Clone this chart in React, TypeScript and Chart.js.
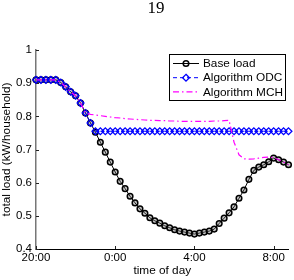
import { useEffect, useRef } from 'react';
import { Chart, registerables } from 'chart.js';

Chart.register(...registerables);

// Sampling grid: one sample every 15 minutes starting at 20:00
const stepHours = 0.25;

const seriesNames = ['Base load', 'Algorithm ODC', 'Algorithm MCH'];

// Average household load (kW) per 15-minute slot, 20:00 to 8:45
const baseLoad = [
  0.91, 0.91, 0.91, 0.91, 0.91, 0.902, 0.889, 0.874, 0.862, 0.84,
  0.81, 0.78, 0.752, 0.722, 0.692, 0.662, 0.632, 0.604, 0.582, 0.559,
  0.539, 0.521, 0.508, 0.494, 0.485, 0.478, 0.47, 0.464, 0.458, 0.454,
  0.451, 0.448, 0.445, 0.448, 0.451, 0.454, 0.46, 0.477, 0.493, 0.509,
  0.527, 0.553, 0.578, 0.61, 0.637, 0.647, 0.654, 0.663, 0.674, 0.669,
  0.662, 0.654,
];

const odcLoad = [
  0.91, 0.91, 0.91, 0.91, 0.91, 0.902, 0.889, 0.874, 0.862, 0.84,
  0.81, 0.78, 0.755, 0.755, 0.755, 0.755, 0.755, 0.755, 0.755, 0.755,
  0.755, 0.755, 0.755, 0.755, 0.755, 0.755, 0.755, 0.755, 0.755, 0.755,
  0.755, 0.755, 0.755, 0.755, 0.755, 0.755, 0.755, 0.755, 0.755, 0.755,
  0.755, 0.755, 0.755, 0.755, 0.755, 0.755, 0.755, 0.755, 0.755, 0.755,
  0.755, 0.755,
];

const mchLoad = [
  0.91, 0.91, 0.91, 0.91, 0.91, 0.902, 0.889, 0.874, 0.862, 0.84,
  0.81, 0.806, 0.804, 0.802, 0.8, 0.798, 0.796, 0.795, 0.793, 0.792,
  0.791, 0.79, 0.789, 0.788, 0.788, 0.787, 0.787, 0.786, 0.786, 0.785,
  0.785, 0.785, 0.785, 0.785, 0.785, 0.785, 0.786, 0.786, 0.787, 0.788,
  0.722, 0.684, 0.672, 0.671, 0.672, 0.674, 0.676, 0.677, 0.676, 0.669,
  0.662, 0.654,
];

const xTickHours = [0, 4, 8, 12];
const xTickLabels = ['20:00', '0:00', '4:00', '8:00'];
const yTickValues = [0.4, 0.5, 0.6, 0.7, 0.8, 0.9, 1];
const yTickLabels = ['0.4', '0.5', '0.6', '0.7', '0.8', '0.9', '1'];

const pageNumber = '19';
const sansFont = '"Liberation Sans", Arial, Helvetica, sans-serif';
const serifFont = '"Liberation Serif", "Times New Roman", serif';

const toPoints = (values: number[]) =>
  values.map((v, i) => ({ x: i * stepHours, y: v }));

function drawMarker(ctx: CanvasRenderingContext2D, style: string, x: number, y: number, r: number) {
  ctx.beginPath();
  if (style === 'rectRot') {
    ctx.moveTo(x, y - r);
    ctx.lineTo(x + r, y);
    ctx.lineTo(x, y + r);
    ctx.lineTo(x - r, y);
    ctx.closePath();
  } else {
    ctx.arc(x, y, r, 0, Math.PI * 2);
  }
  ctx.stroke();
}

// Inward tick marks on both axes, drawn under the data
const innerTicks = {
  id: 'innerTicks',
  beforeDatasetsDraw(chart: any) {
    const { ctx, chartArea, scales } = chart;
    ctx.save();
    ctx.strokeStyle = '#222';
    ctx.lineWidth = 1;
    yTickValues.forEach((v) => {
      const y = Math.round(scales.y.getPixelForValue(v)) + 0.5;
      ctx.beginPath();
      ctx.moveTo(chartArea.left, y);
      ctx.lineTo(chartArea.left + 3, y);
      ctx.stroke();
    });
    xTickHours.forEach((h) => {
      const x = Math.round(scales.x.getPixelForValue(h)) + 0.5;
      ctx.beginPath();
      ctx.moveTo(x, chartArea.bottom);
      ctx.lineTo(x, chartArea.bottom - 3);
      ctx.stroke();
    });
    ctx.restore();
  },
};

// Boxed legend with line-style samples plus the page number above the plot
const boxLegend = {
  id: 'boxLegend',
  afterDraw(chart: any) {
    const { ctx } = chart;
    ctx.save();
    ctx.fillStyle = '#000';
    ctx.font = `17px ${serifFont}`;
    ctx.textAlign = 'center';
    ctx.textBaseline = 'alphabetic';
    ctx.fillText(pageNumber, 156, 12.5);

    const bx = 169.5, by = 54.5, bw = 116, bh = 46;
    ctx.fillStyle = '#fff';
    ctx.fillRect(bx, by, bw, bh);
    ctx.strokeStyle = '#000';
    ctx.lineWidth = 1;
    ctx.setLineDash([]);
    ctx.strokeRect(bx, by, bw, bh);

    chart.data.datasets.forEach((ds: any, i: number) => {
      const y = 63.5 + i * 14.2;
      ctx.strokeStyle = ds.borderColor;
      ctx.lineWidth = ds.borderWidth;
      ctx.setLineDash(ds.borderDash || []);
      ctx.beginPath();
      ctx.moveTo(173, y);
      ctx.lineTo(199, y);
      ctx.stroke();
      ctx.setLineDash([]);
      if (ds.pointRadius > 0) {
        ctx.strokeStyle = ds.pointBorderColor;
        ctx.lineWidth = ds.pointBorderWidth;
        drawMarker(ctx, ds.pointStyle, 186, y, ds.pointRadius);
      }
      ctx.fillStyle = '#000';
      ctx.font = `11.8px ${sansFont}`;
      ctx.textAlign = 'left';
      ctx.textBaseline = 'middle';
      ctx.fillText(ds.label, 203, y + 0.5);
    });
    ctx.restore();
  },
};

export default function App() {
  const canvasRef = useRef<HTMLCanvasElement | null>(null);

  useEffect(() => {
    const canvas = canvasRef.current;
    if (!canvas) return;
    const xMax = (baseLoad.length - 1) * stepHours;

    const chart = new Chart(canvas, {
      type: 'line',
      data: {
        datasets: [
          {
            label: seriesNames[0],
            data: toPoints(baseLoad),
            borderColor: '#000',
            borderWidth: 1,
            pointStyle: 'circle',
            pointRadius: 2.8,
            pointBorderColor: '#000',
            pointBackgroundColor: 'rgba(90,90,90,0.35)',
            pointBorderWidth: 1.5,
            order: 3,
            clip: false,
          },
          {
            label: seriesNames[1],
            data: toPoints(odcLoad),
            borderColor: '#0000ff',
            borderWidth: 1,
            borderDash: [4, 3],
            pointStyle: 'rectRot',
            pointRadius: 3.4,
            pointBorderColor: '#0000ff',
            pointBackgroundColor: 'rgba(0,0,0,0)',
            pointBorderWidth: 1.3,
            order: 2,
            clip: false,
          },
          {
            label: seriesNames[2],
            data: toPoints(mchLoad),
            borderColor: '#ff00ff',
            borderWidth: 1.2,
            borderDash: [6, 3, 1.5, 3],
            pointRadius: 0,
            order: 1,
            clip: false,
          },
        ],
      },
      options: {
        responsive: false,
        animation: false,
        devicePixelRatio: 1,
        layout: { padding: { top: 50, right: 4, left: 0, bottom: 0 } },
        plugins: {
          legend: { display: false },
          tooltip: { enabled: false },
          title: { display: false },
        },
        elements: { line: { tension: 0 } },
        scales: {
          x: {
            type: 'linear',
            min: 0,
            max: xMax,
            afterFit: (s: any) => { s.height = 31; },
            afterBuildTicks: (s: any) => {
              s.ticks = xTickHours.map((v) => ({ value: v }));
            },
            grid: { display: false, drawTicks: false },
            border: { display: true, color: '#000', width: 1 },
            ticks: {
              color: '#000',
              padding: 2,
              maxRotation: 0,
              autoSkip: false,
              font: { family: sansFont, size: 11.5 },
              callback: (v: any) => {
                const i = xTickHours.indexOf(Number(v));
                return i >= 0 ? xTickLabels[i] : '';
              },
            },
            title: {
              display: true,
              text: 'time of day',
              color: '#000',
              font: { family: sansFont, size: 11.8 },
              padding: { top: 0, bottom: 2 },
            },
          },
          y: {
            min: 0.4,
            max: 1,
            afterFit: (s: any) => { s.width = 36; },
            afterBuildTicks: (s: any) => {
              s.ticks = yTickValues.map((v) => ({ value: v }));
            },
            grid: { display: false, drawTicks: false },
            border: { display: true, color: '#777', width: 1.5 },
            ticks: {
              color: '#000',
              padding: 4,
              autoSkip: false,
              font: { family: sansFont, size: 11.5 },
              callback: (v: any) => {
                const i = yTickValues.findIndex((t) => Math.abs(t - Number(v)) < 1e-6);
                return i >= 0 ? yTickLabels[i] : '';
              },
            },
            title: {
              display: true,
              text: 'total load (kW/household)',
              color: '#000',
              font: { family: sansFont, size: 11.8 },
              padding: { top: 0, bottom: 0 },
            },
          },
        },
      },
      plugins: [innerTicks, boxLegend],
    });

    return () => chart.destroy();
  }, []);

  return (
    <div style={{ position: 'fixed', left: 0, top: 0, width: 294, height: 280, background: '#fff' }}>
      <canvas ref={canvasRef} width={294} height={280} style={{ display: 'block', width: 294, height: 280 }} />
    </div>
  );
}
